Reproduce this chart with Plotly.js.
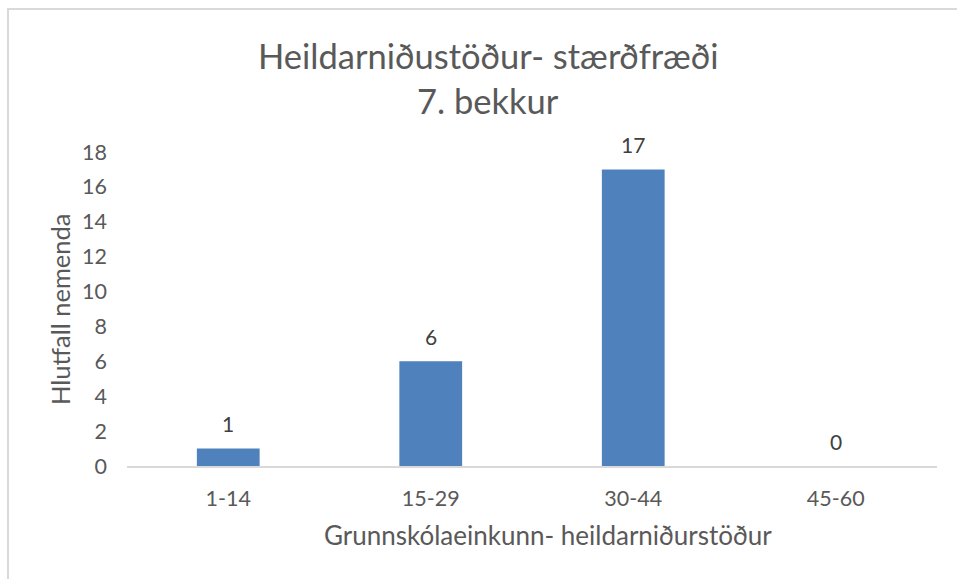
<!DOCTYPE html>
<html>
<head>
<meta charset="utf-8">
<script src="https://cdn.plot.ly/plotly-3.0.1.min.js"></script>
<style>
html,body{margin:0;padding:0;background:#fff;}
#wrap{position:relative;width:957px;height:579px;overflow:hidden;}
#chart{position:absolute;left:0;top:0;width:957px;height:579px;}
#bl{position:absolute;left:7px;top:8px;width:2px;height:580px;background:#d9d9d9;}
#bt{position:absolute;left:7px;top:8px;width:960px;height:2px;background:#d9d9d9;}
</style>
</head>
<body>
<div id="wrap"><div id="chart"></div><div id="bl"></div><div id="bt"></div></div>
<script>
const categories = ["1-14", "15-29", "30-44", "45-60"];
const values = [1, 6, 17, 0];
const yTicks = [0, 2, 4, 6, 8, 10, 12, 14, 16, 18];
const titleLine1 = "Heildarniðustöður- stærðfræði";
const titleLine2 = "7. bekkur";
const xTitle = "Grunnskólaeinkunn- heildarniðurstöður";
const yTitle = "Hlutfall nemenda";

const FONT = "Lato, 'Open Sans', sans-serif";
const trace = {
  type: "bar",
  x: categories,
  y: values,
  marker: {color: "#4f81bd"},
  hoverinfo: "none"
};
const labelAnnotations = categories.map((c, i) => ({
  text: String(values[i]), x: c, y: values[i], xref: "x", yref: "y",
  yshift: 25, xanchor: "center", yanchor: "middle", showarrow: false,
  font: {family: FONT, size: 21, color: "#404040"}
}));
const layout = {
  width: 957, height: 579,
  margin: {l: 127, r: 20, t: 152, b: 113},
  paper_bgcolor: "rgba(0,0,0,0)",
  plot_bgcolor: "rgba(0,0,0,0)",
  bargap: 0.69,
  showlegend: false,
  font: {family: FONT, color: "#595959"},
  xaxis: {
    type: "category",
    showline: true, linecolor: "#d9d9d9", linewidth: 1.5,
    showgrid: false, zeroline: false, ticks: "",
    ticklabelstandoff: 13,
    tickfont: {family: FONT, size: 21.5, color: "#595959"}
  },
  yaxis: {
    range: [0, 18],
    tickvals: yTicks,
    showline: false, showgrid: false, zeroline: false, ticks: "",
    ticklabelstandoff: 19,
    tickfont: {family: FONT, size: 21.5, color: "#595959"}
  },
  annotations: [
    {text: titleLine1, xref: "paper", yref: "paper", x: 0.4457, y: 1.3089, xanchor: "center", yanchor: "middle", showarrow: false, font: {family: FONT, size: 34.5, color: "#595959"}},
    {text: titleLine2, xref: "paper", yref: "paper", x: 0.4457, y: 1.1656, xanchor: "center", yanchor: "middle", showarrow: false, font: {family: FONT, size: 34.5, color: "#595959"}},
    {text: xTitle, xref: "paper", yref: "paper", x: 0.52, y: -0.2197, xanchor: "center", yanchor: "middle", showarrow: false, font: {family: FONT, size: 26, color: "#595959"}},
    {text: yTitle, xref: "paper", yref: "paper", x: -0.0827, y: 0.5, xanchor: "center", yanchor: "middle", textangle: -90, showarrow: false, font: {family: FONT, size: 25.5, color: "#595959"}}
  ].concat(labelAnnotations)
};
Plotly.newPlot("chart", [trace], layout, {displayModeBar: false, staticPlot: true});
</script>
</body>
</html>
